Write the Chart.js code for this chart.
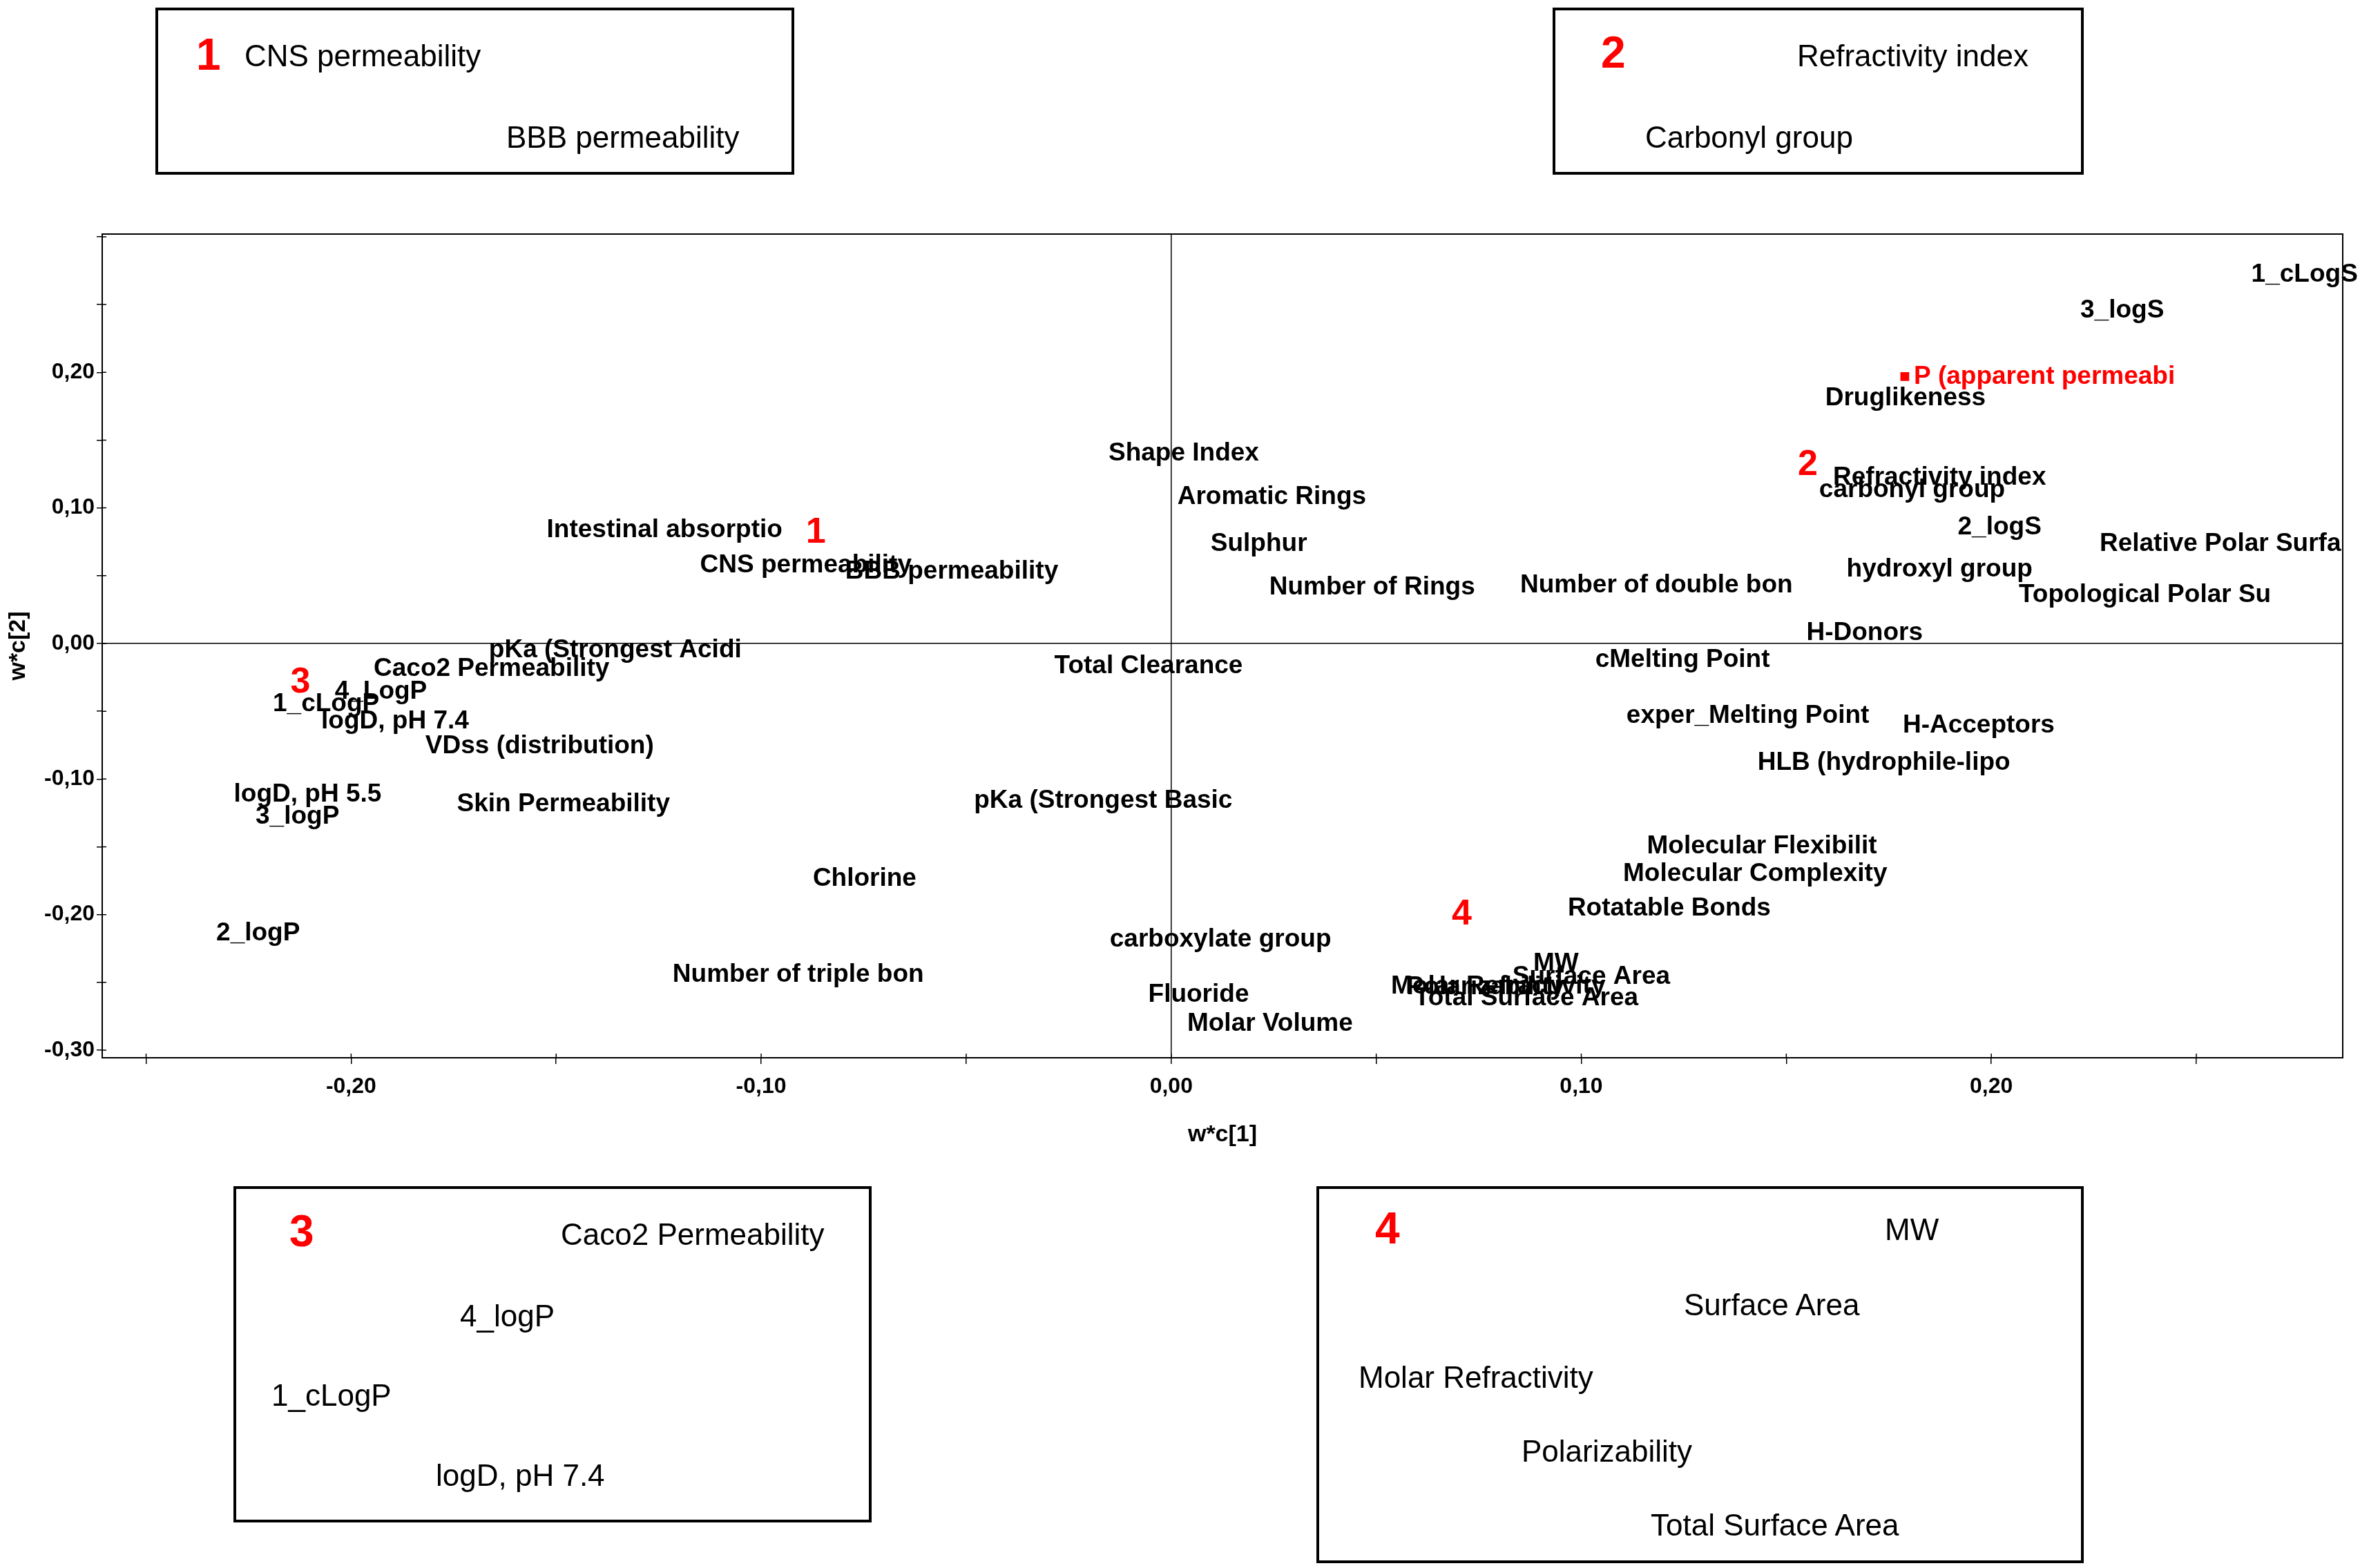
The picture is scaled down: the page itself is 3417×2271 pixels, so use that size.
<!DOCTYPE html>
<html>
<head>
<meta charset="utf-8">
<script src="https://cdn.jsdelivr.net/npm/chart.js@4.4.1/dist/chart.umd.min.js"></script>
<style>
body{margin:0;background:#fff;}
#wrap{position:relative;width:3417px;height:2271px;overflow:hidden;}
#c{position:absolute;left:0;top:0;}
.box{position:absolute;border:4px solid #000;box-sizing:border-box;}
.txt{position:absolute;font:44px "Liberation Sans",Arial,sans-serif;white-space:nowrap;transform:translateY(-50%);color:#000;}
.txt.num{color:#f00;font-weight:bold;font-size:64px;}
</style>
</head>
<body>
<div id="wrap">
<canvas id="c" width="3417" height="2271"></canvas>
</div>
<script>
// loadings w*c[1] / w*c[2]
const varNames = ['1_cLogS','3_logS','Druglikeness','Shape Index','Aromatic Rings','Sulphur','Number of Rings',
  'Number of double bon','Refractivity index','carbonyl group','2_logS','Relative Polar Surfa','hydroxyl group',
  'Topological Polar Su','H-Donors','cMelting Point','exper_Melting Point','H-Acceptors','HLB (hydrophile-lipo',
  'Molecular Flexibilit','Molecular Complexity','Rotatable Bonds','MW','Surface Area','Molar Refractivity',
  'Polarizability','Total Surface Area','carboxylate group','Fluoride','Molar Volume','Total Clearance',
  'pKa (Strongest Basic','Chlorine','Number of triple bon','Intestinal absorptio','CNS permeability',
  'BBB permeability','pKa (Strongest Acidi','Caco2 Permeability','4_LogP','1_cLogP','logD, pH 7.4',
  'VDss (distribution)','logD, pH 5.5','3_logP','Skin Permeability','2_logP'];
const wc1 = [0.2634,0.2217,0.1595,-0.0153,0.0015,0.0096,0.0239,
  0.0851,0.1614,0.1580,0.1918,0.2264,0.1647,
  0.2067,0.1549,0.1034,0.1110,0.1784,0.1430,
  0.1160,0.1102,0.0967,0.0883,0.0832,0.0536,
  0.0574,0.0593,-0.0150,-0.0056,0.0039,-0.0285,
  -0.0481,-0.0874,-0.1216,-0.1523,-0.1149,
  -0.0795,-0.1664,-0.1945,-0.2040,-0.2191,-0.2073,
  -0.1819,-0.2286,-0.2233,-0.1742,-0.2329];
const wc2 = [0.2719,0.2454,0.1811,0.1403,0.1082,0.0735,0.0413,
  0.0427,0.1224,0.1133,0.0857,0.0735,0.0546,
  0.0355,0.0077,-0.0122,-0.0536,-0.0607,-0.0878,
  -0.1495,-0.1700,-0.1954,-0.2360,-0.2460,-0.2530,
  -0.2535,-0.2617,-0.2184,-0.2592,-0.2804,-0.0165,
  -0.1162,-0.1735,-0.2446,0.0837,0.0577,
  0.0531,-0.0051,-0.0189,-0.0357,-0.0446,-0.0577,
  -0.0760,-0.1112,-0.1280,-0.1184,-0.2138];

// response variable (red square)
const respNames = ['P (apparent permeabi'];
const respX = [0.1789];
const respY = [0.1969];

// group numbers in the plot
const groupNums = ['1','2','3','4'];
const groupX = [-0.0891,0.1528,-0.2148,0.0684];
const groupY = [0.0816,0.1316,-0.0290,-0.2000];

// zoom boxes
const boxTexts = [
  ['1','CNS permeability','BBB permeability'],
  ['2','Refractivity index','Carbonyl group'],
  ['3','Caco2 Permeability','4_logP','1_cLogP','logD, pH 7.4'],
  ['4','MW','Surface Area','Molar Refractivity','Polarizability','Total Surface Area']
];
const boxRects = [[225,11,925,242],[2248,11,769,242],[338,1718,924,487],[1906,1718,1111,546]];
const boxTextPos = [
  [[284,79],[354,81],[733,199]],
  [[2318,76],[2602,81],[2382,199]],
  [[419,1783],[812,1788],[666,1906],[393,2021],[631,2137]],
  [[1991,1779],[2729,1781],[2438,1890],[1967,1995],[2203,2102],[2390,2209]]
];

const wrap = document.getElementById('wrap');
boxRects.forEach((r, b) => {
  const d = document.createElement('div');
  d.className = 'box';
  d.style.left = r[0] + 'px'; d.style.top = r[1] + 'px';
  d.style.width = r[2] + 'px'; d.style.height = r[3] + 'px';
  wrap.appendChild(d);
  boxTexts[b].forEach((t, i) => {
    const s = document.createElement('span');
    s.className = i === 0 ? 'txt num' : 'txt';
    s.textContent = t;
    s.style.left = boxTextPos[b][i][0] + 'px';
    s.style.top = boxTextPos[b][i][1] + 'px';
    wrap.appendChild(s);
  });
});

const FONT = '"Liberation Sans", Arial, sans-serif';

function fmt(v) {
  const r = Math.round(v * 100);
  if (r % 10 !== 0 || r >= 30) return '';
  return (r / 100).toFixed(2).replace('.', ',');
}

const labelPlugin = {
  id: 'pointLabels',
  afterDatasetsDraw(chart) {
    const c = chart.ctx;
    c.save();
    c.textAlign = 'left';
    c.textBaseline = 'middle';
    // group numbers
    c.fillStyle = '#f00';
    c.font = 'bold 52px ' + FONT;
    chart.getDatasetMeta(0).data.forEach((p, i) => c.fillText(groupNums[i], p.x, p.y));
    // variable names
    c.fillStyle = '#000';
    c.font = 'bold 37px ' + FONT;
    chart.getDatasetMeta(1).data.forEach((p, i) => c.fillText(varNames[i], p.x, p.y));
    // response
    c.fillStyle = '#f00';
    chart.getDatasetMeta(2).data.forEach((p, i) => c.fillText(respNames[i], p.x + 13, p.y));
    c.restore();
  }
};

// frame round the plot + the short inner part of the tick marks
const framePlugin = {
  id: 'frame',
  beforeDatasetsDraw(chart) {
    const a = chart.chartArea, c = chart.ctx;
    c.save();
    c.strokeStyle = '#000';
    c.lineWidth = 2;
    c.strokeRect(a.left, a.top, a.right - a.left, a.bottom - a.top);
    c.lineWidth = 1.5;
    c.beginPath();
    chart.scales.x.ticks.forEach(t => {
      const px = chart.scales.x.getPixelForValue(t.value);
      c.moveTo(px, a.bottom); c.lineTo(px, a.bottom - 6);
    });
    chart.scales.y.ticks.forEach(t => {
      const py = chart.scales.y.getPixelForValue(t.value);
      c.moveTo(a.left, py); c.lineTo(a.left + 6, py);
    });
    c.stroke();
    c.restore();
  }
};

const zeroLine = ctx => Math.abs(ctx.tick.value) < 1e-9 ? '#000' : 'rgba(0,0,0,0)';

new Chart(document.getElementById('c'), {
  type: 'scatter',
  data: {
    datasets: [
      { label: 'groups', data: groupNums.map((n, i) => ({x: groupX[i], y: groupY[i]})), pointRadius: 0 },
      { label: 'variables', data: varNames.map((n, i) => ({x: wc1[i], y: wc2[i]})), pointRadius: 0 },
      { label: 'response', data: respNames.map((n, i) => ({x: respX[i], y: respY[i]})),
        pointStyle: 'rect', pointRadius: 9, backgroundColor: '#f00', borderWidth: 0 }
    ]
  },
  options: {
    responsive: false,
    animation: false,
    devicePixelRatio: 1,
    layout: { padding: { left: 0, top: 339, right: 25, bottom: 599 } },
    plugins: { legend: { display: false }, tooltip: { enabled: false } },
    scales: {
      x: {
        type: 'linear', min: -0.2607, max: 0.2857,
        afterFit(s) { s.height = 140; },
        ticks: { stepSize: 0.05, includeBounds: false, autoSkip: false, maxRotation: 0, padding: 14,
                 color: '#000', font: { family: FONT, size: 32, weight: 'bold' }, callback: fmt },
        grid: { color: zeroLine, lineWidth: 1.5, tickColor: '#000', tickLength: 9, tickWidth: 1.5 },
        border: { display: true, color: '#000', width: 2 },
        title: { display: true, text: 'w*c[1]', color: '#000', padding: { top: 0, bottom: 8 },
                 font: { family: FONT, size: 34, weight: 'bold' } }
      },
      y: {
        type: 'linear', min: -0.3056, max: 0.302,
        afterFit(s) { s.width = 148; },
        ticks: { stepSize: 0.05, includeBounds: false, autoSkip: false, padding: 3,
                 color: '#000', font: { family: FONT, size: 32, weight: 'bold' }, callback: fmt },
        grid: { color: zeroLine, lineWidth: 1.5, tickColor: '#000', tickLength: 8, tickWidth: 1.5 },
        border: { display: true, color: '#000', width: 2 },
        title: { display: true, text: 'w*c[2]', color: '#000', padding: { top: 6, bottom: 0 },
                 font: { family: FONT, size: 34, weight: 'bold' } }
      }
    }
  },
  plugins: [framePlugin, labelPlugin]
});
</script>
</body>
</html>
